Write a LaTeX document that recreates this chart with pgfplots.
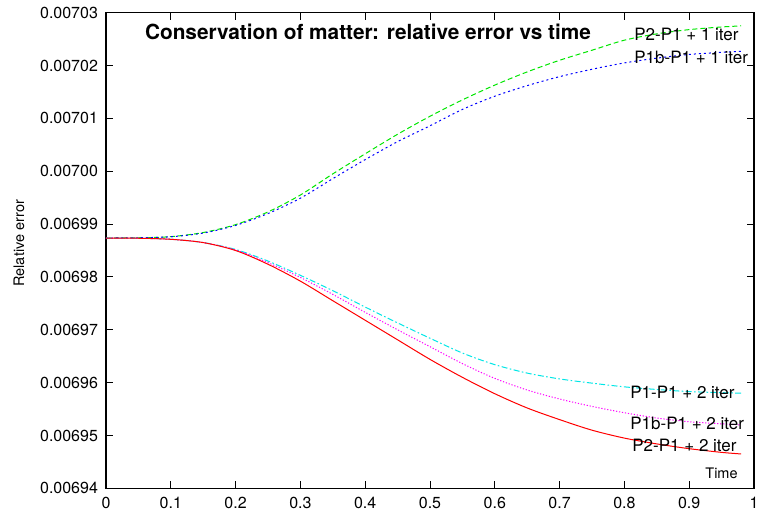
\documentclass[border=0pt]{standalone}
\usepackage{fontspec}
\setmainfont{TeX Gyre Heros}
\usepackage{pgfplots}
\pgfplotsset{compat=1.18}
\usetikzlibrary{calc}
\begin{document}
\begin{tikzpicture}
\begin{axis}[
  name=ax,
  scale only axis,
  width=324pt, height=237.8pt,
  xmin=0, xmax=1,
  ymin=0.00694, ymax=0.00703,
  axis line style={line width=0.6pt},
  tick style={black, line width=0.5pt},
  major tick length=3.5pt,
  tick align=inside,
  xtick={0,0.1,0.2,0.3,0.4,0.5,0.6,0.7,0.8,0.9,1},
  xticklabels={0,0.1,0.2,0.3,0.4,\raisebox{-1.6pt}{0.5},0.6,0.7,0.8,0.9,1},
  ytick={0.00694,0.00695,0.00696,0.00697,0.00698,0.00699,0.00700,0.00701,0.00702,0.00703},
  yticklabels={0.00694,0.00695,0.00696,0.00697,0.00698,0.00699,0.00700,0.00701,0.00702,0.00703},
  scaled y ticks=false,
  /pgf/number format/assume math mode=true,
  ticklabel style={font=\fontsize{8}{9.6}\selectfont},
  xticklabel style={yshift=-1pt},
  yticklabel style={xshift=-0.5pt},
  clip=false,
]
\addplot[color={rgb,255:red,0;green,230;blue,0}, line width=0.5pt, dash pattern=on 2.5pt off 1.5pt, smooth] coordinates {
(0,0.00698736) (0.05,0.00698741) (0.1,0.00698762) (0.15,0.00698840) (0.2,0.00698990)
(0.25,0.00699230) (0.3,0.00699550) (0.35,0.00699950) (0.4,0.00700330) (0.45,0.00700700)
(0.5,0.00701040) (0.55,0.00701350) (0.6,0.00701630) (0.65,0.00701880) (0.7,0.00702100)
(0.75,0.00702290) (0.8,0.00702480) (0.85,0.00702600) (0.9,0.00702680) (0.95,0.00702730) (0.98,0.00702750)};
\addplot[color={rgb,255:red,0;green,0;blue,255}, line width=0.5pt, dash pattern=on 1pt off 1.5pt, smooth] coordinates {
(0,0.00698736) (0.05,0.00698741) (0.1,0.00698760) (0.15,0.00698830) (0.2,0.00698975)
(0.25,0.00699200) (0.3,0.00699490) (0.35,0.00699860) (0.4,0.00700220) (0.45,0.00700560)
(0.5,0.00700860) (0.55,0.00701170) (0.6,0.00701420) (0.65,0.00701620) (0.7,0.00701790)
(0.75,0.00701930) (0.8,0.00702050) (0.85,0.00702140) (0.9,0.00702210) (0.95,0.00702250) (0.98,0.00702270)};
\addplot[color={rgb,255:red,0;green,230;blue,230}, line width=0.5pt, dash pattern=on 3pt off 1.2pt on 0.8pt off 1.2pt, smooth] coordinates {
(0,0.00698736) (0.05,0.00698732) (0.1,0.00698712) (0.15,0.00698650) (0.2,0.00698520)
(0.25,0.00698300) (0.3,0.00698030) (0.35,0.00697740) (0.4,0.00697430) (0.45,0.00697130)
(0.5,0.00696840) (0.55,0.00696560) (0.6,0.00696340) (0.65,0.00696180) (0.7,0.00696070)
(0.75,0.00695990) (0.8,0.00695920) (0.85,0.00695870) (0.9,0.00695830) (0.95,0.00695810) (0.98,0.00695800)};
\addplot[color={rgb,255:red,255;green,0;blue,255}, line width=0.5pt, dash pattern=on 0.6pt off 0.9pt, smooth] coordinates {
(0,0.00698736) (0.05,0.00698732) (0.1,0.00698712) (0.15,0.00698650) (0.2,0.00698510)
(0.25,0.00698270) (0.3,0.00697990) (0.35,0.00697670) (0.4,0.00697330) (0.45,0.00697000)
(0.5,0.00696680) (0.55,0.00696360) (0.6,0.00696080) (0.65,0.00695860) (0.7,0.00695690)
(0.75,0.00695550) (0.8,0.00695430) (0.85,0.00695330) (0.9,0.00695260) (0.95,0.00695220) (0.98,0.00695200)};
\addplot[color={rgb,255:red,255;green,0;blue,0}, line width=0.5pt, smooth] coordinates {
(0,0.00698736) (0.05,0.00698732) (0.1,0.00698712) (0.15,0.00698650) (0.2,0.00698500)
(0.25,0.00698240) (0.3,0.00697920) (0.35,0.00697550) (0.4,0.00697180) (0.45,0.00696810)
(0.5,0.00696440) (0.55,0.00696100) (0.6,0.00695790) (0.65,0.00695520) (0.7,0.00695300)
(0.75,0.00695100) (0.8,0.00694950) (0.85,0.00694840) (0.9,0.00694750) (0.95,0.00694680) (0.98,0.00694650)};
\node[anchor=center, inner sep=0pt, font=\fontsize{10.4}{12}\selectfont\bfseries] at (rel axis cs:0.4043,0.959) {Conservation of matter: relative error vs time};
\node[anchor=west, inner sep=0pt, font=\fontsize{8.5}{10}\selectfont] at (rel axis cs:0.8148,0.955) {P2-P1 + 1 iter};
\node[anchor=west, inner sep=0pt, font=\fontsize{8.5}{10}\selectfont] at (rel axis cs:0.8148,0.9055) {P1b-P1 + 1 iter};
\node[anchor=west, inner sep=0pt, font=\fontsize{8.5}{10}\selectfont] at (rel axis cs:0.8086,0.2024) {P1-P1 + 2 iter};
\node[anchor=west, inner sep=0pt, font=\fontsize{8.5}{10}\selectfont] at (rel axis cs:0.8086,0.1373) {P1b-P1 + 2 iter};
\node[anchor=west, inner sep=0pt, font=\fontsize{8.5}{10}\selectfont] at (rel axis cs:0.8117,0.091) {P2-P1 + 2 iter};
\node[anchor=west, inner sep=0pt, font=\fontsize{7.25}{9}\selectfont] at (rel axis cs:0.9244,0.0322) {Time};
\node[anchor=center, inner sep=0pt, rotate=90, font=\fontsize{7.25}{9}\selectfont] at (rel axis cs:-0.1343,0.515) {Relative error};
\end{axis}
\pgfresetboundingbox
\path ($(ax.south west)+(-53pt,-13.35pt)$) rectangle ($(ax.north east)+(1.5pt,6.35pt)$);
\end{tikzpicture}
\end{document}
